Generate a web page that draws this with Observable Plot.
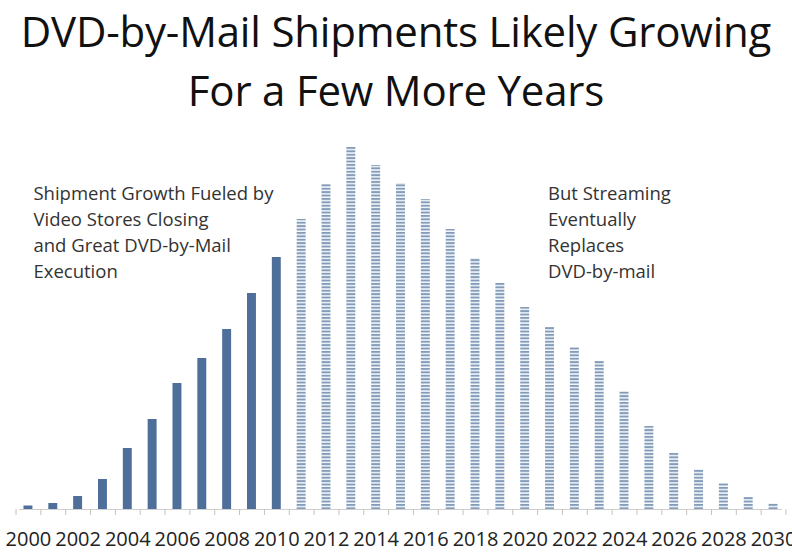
<!DOCTYPE html>
<html><head><meta charset="utf-8">
<script src="https://cdn.jsdelivr.net/npm/d3@7"></script>
<script src="https://cdn.jsdelivr.net/npm/@observablehq/plot@0.6"></script>
<style>
body{margin:0;background:#fff;font-family:"Open Sans",sans-serif;}
#title{height:130px;text-align:center;font-size:42px;line-height:59px;color:#111;padding-top:1px;box-sizing:border-box;white-space:nowrap;letter-spacing:-0.2px;}
#chart svg{display:block;}
</style></head><body>
<div id="title"></div>
<div id="chart"></div>
<script>
const titleLines = ["DVD-by-Mail Shipments Likely Growing", "For a Few More Years"];
const years = [2000,2001,2002,2003,2004,2005,2006,2007,2008,2009,2010,2011,2012,2013,2014,2015,2016,2017,2018,2019,2020,2021,2022,2023,2024,2025,2026,2027,2028,2029,2030];
const shipments = [3.5,6,13,30,61,90,126,151,180,216,252,290,325,362,344,326,310,280,251,226,202,182,162,148,118,83,56,40,26,12,6];
const lastActualYear = 2010;
const labelYears = [2000,2002,2004,2006,2008,2010,2012,2014,2016,2018,2020,2022,2024,2026,2028,2030];
const leftNote = ["Shipment Growth Fueled by","Video Stores Closing","and Great DVD-by-Mail","Execution"];
const rightNote = ["But Streaming","Eventually","Replaces","DVD-by-mail"];
const leftNoteAt = {year: 2000, value: 328};
const rightNoteAt = {year: 2021, value: 328};

document.getElementById("title").innerHTML = titleLines.join("<br>");

const data = years.map((y, i) => ({year: y, value: shipments[i]}));
const actual = data.filter(d => d.year <= lastActualYear);
const forecast = data.filter(d => d.year > lastActualYear);

const chart = Plot.plot({
  width: 792, height: 425,
  marginTop: 17, marginBottom: 46, marginLeft: 19, marginRight: 10,
  style: {fontFamily: "'Open Sans', sans-serif", background: "#fff"},
  x: {type: "band", domain: years, paddingInner: 0.64, paddingOuter: 0.18, round: false, axis: null, label: null},
  y: {domain: [0, 362], axis: null},
  marks: [
    Plot.barY(actual, {x: "year", y: "value", fill: "#4f6f9b"}),
    Plot.barY(forecast, {x: "year", y: "value", fill: "url(#stripes)"}),
    Plot.ruleY([0], {stroke: "#cfcfcf", strokeWidth: 1}),
    Plot.ruleX(years, {x: d => d, dx: -12.4, y1: 0, y2: -6, stroke: "#cbc2b4"}),
    Plot.ruleX([years[years.length - 1]], {x: d => d, dx: 12.4, y1: 0, y2: -6, stroke: "#cbc2b4"}),
    Plot.axisX({ticks: labelYears, tickSize: 0, tickPadding: 22, fontSize: 20, color: "#222", label: null, tickFormat: d => String(d)}),
    Plot.text([leftNoteAt], {x: "year", y: "value", text: () => leftNote.join("\n"), textAnchor: "start", lineAnchor: "top", lineHeight: 1.4, fontSize: 18.5, dx: 5, fill: "#333"}),
    Plot.text([rightNoteAt], {x: "year", y: "value", text: () => rightNote.join("\n"), textAnchor: "start", lineAnchor: "top", lineHeight: 1.4, fontSize: 18.5, dx: -2, fill: "#333"})
  ]
});

const defs = d3.select(chart).insert("defs", ":first-child");
const pat = defs.append("pattern").attr("id", "stripes").attr("patternUnits", "userSpaceOnUse")
  .attr("width", 10).attr("height", 3.4);
pat.append("rect").attr("width", 10).attr("height", 3.4).attr("fill", "#f4f7fa");
pat.append("rect").attr("width", 10).attr("height", 1.9).attr("fill", "#819bb9");

document.getElementById("chart").appendChild(chart);
</script>
</body></html>
